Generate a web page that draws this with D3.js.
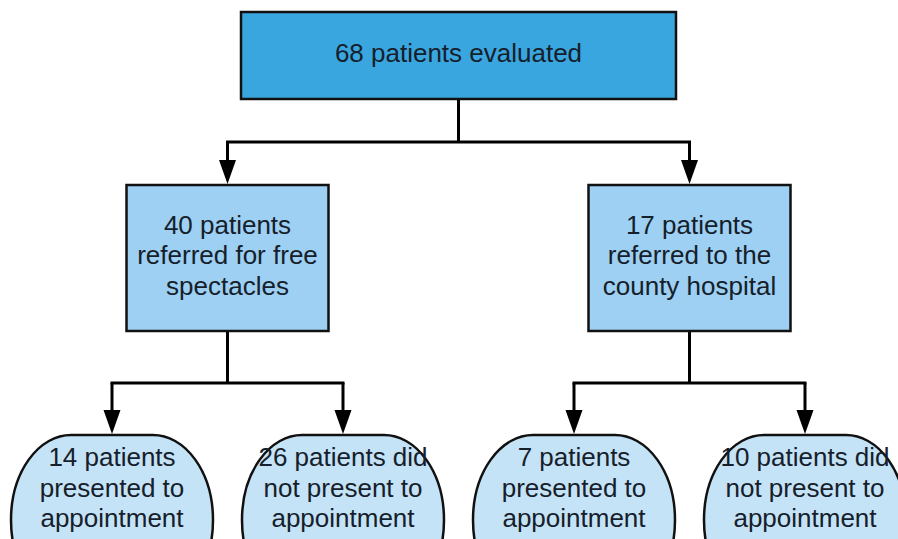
<html lang="en">
<head>
<meta charset="utf-8">
<title>Patient flow</title>
<style>
  body { margin: 0; background: white; font-family: "Liberation Sans", Arial, sans-serif; }
  .label { font-size: 26px; fill: #15202b; text-anchor: middle; }
  .link { fill: none; stroke: #000; stroke-width: 3px; }
</style>
</head>
<body>
<div id="chart"></div>
<script src="https://d3js.org/d3.v7.min.js"></script>
<script>
// node data
var nodeIds = ["root", "spect", "county", "spectYes", "spectNo", "countyYes", "countyNo"];
var nodeParents = ["", "root", "root", "spect", "spect", "county", "county"];
var nodeCounts = [68, 40, 17, 14, 26, 7, 10];
var nodeLines = [
  ["68 patients evaluated"],
  ["40 patients", "referred for free", "spectacles"],
  ["17 patients", "referred to the", "county hospital"],
  ["14 patients", "presented to", "appointment"],
  ["26 patients did", "not present to", "appointment"],
  ["7 patients", "presented to", "appointment"],
  ["10 patients did", "not present to", "appointment"]
];

var width = 898, height = 539;
var svg = d3.select("#chart").append("svg")
  .attr("width", width).attr("height", height);

var table = nodeIds.map(function(id, i) {
  return { id: id, parent: nodeParents[i] || null, count: nodeCounts[i], lines: nodeLines[i] };
});

var root = d3.stratify().id(function(d) { return d.id; }).parentId(function(d) { return d.parent; })(table);
d3.tree().size([1, 2]).separation(function() { return 1; })(root);

var leaves = root.leaves();
var x = d3.scaleLinear()
  .domain([d3.min(leaves, function(d) { return d.x; }), d3.max(leaves, function(d) { return d.x; })])
  .range([112, 805]);

// per level: top, height, fill, shape
var levelTop = [12, 185, 435];
var levelH = [87, 146, 170];
var levelW = [435, 202, 202];
var levelFill = ["#3aa6df", "#9dd0f2", "#c5e3f6"];
var joinY = [142, 383];

var nodes = root.descendants();

// connectors
nodes.filter(function(d) { return d.children; }).forEach(function(d) {
  var lv = d.depth;
  var cx = x(d.x);
  var y0 = levelTop[lv] + levelH[lv];
  var kids = d.children;
  var g = svg.append("g");
  g.append("line").attr("class", "link")
    .attr("x1", cx).attr("x2", cx).attr("y1", y0).attr("y2", joinY[lv]);
  g.append("line").attr("class", "link")
    .attr("x1", x(kids[0].x) - 1.5).attr("x2", x(kids[kids.length - 1].x) + 1.5)
    .attr("y1", joinY[lv]).attr("y2", joinY[lv]);
  kids.forEach(function(k) {
    var kx = x(k.x);
    var yEnd = levelTop[lv + 1] - 1;
    g.append("line").attr("class", "link")
      .attr("x1", kx).attr("x2", kx).attr("y1", joinY[lv]).attr("y2", yEnd - 20);
    g.append("path")
      .attr("d", "M" + (kx - 8.5) + "," + (yEnd - 24) + "L" + (kx + 8.5) + "," + (yEnd - 24) + "L" + kx + "," + yEnd + "Z")
      .attr("fill", "#000");
  });
});

// boxes
var node = svg.selectAll("g.node").data(nodes).join("g").attr("class", "node");

node.append("rect")
  .attr("x", function(d) { return x(d.x) - levelW[d.depth] / 2; })
  .attr("y", function(d) { return levelTop[d.depth]; })
  .attr("width", function(d) { return levelW[d.depth]; })
  .attr("height", function(d) { return levelH[d.depth]; })
  .attr("rx", function(d) { return d.depth === 2 ? 60 : 0; })
  .attr("ry", function(d) { return d.depth === 2 ? 85 : 0; })
  .attr("fill", function(d) { return levelFill[d.depth]; })
  .attr("stroke", "#111")
  .attr("stroke-width", 2.5);

var lineCenters = [[53], [225, 255, 286], [457, 488, 518]];

node.each(function(d) {
  var g = d3.select(this);
  d.data.lines.forEach(function(t, i) {
    g.append("text").attr("class", "label")
      .attr("x", x(d.x))
      .attr("y", lineCenters[d.depth][i])
      .attr("dy", "0.35em")
      .text(t);
  });
});
</script>
</body>
</html>
